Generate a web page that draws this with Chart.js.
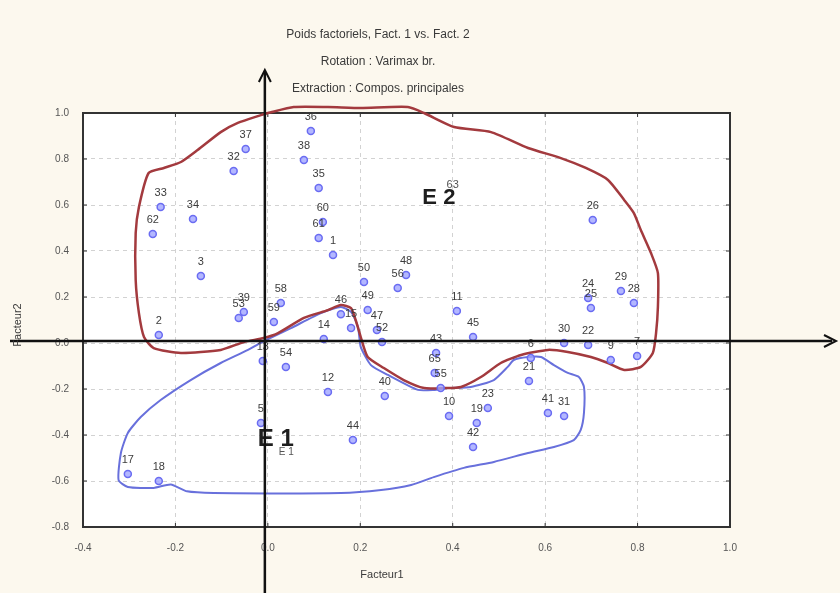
<!DOCTYPE html>
<html>
<head>
<meta charset="utf-8">
<script src="https://cdn.jsdelivr.net/npm/chart.js@4"></script>
<style>
  body { margin: 0; background: #fcf8ee; }
  canvas { display: block; }
</style>
</head>
<body>
<canvas id="chart" width="840" height="593"></canvas>
<script>
// variables (point labels) and their loadings
const pointLabels = ['37', '32', '33', '62', '34', '3', '2', '36', '38', '35', '60', '61', '1',
    '39', '53', '58', '59', '13', '54', '12', '5', '17', '18', '44',
    '50', '48', '56', '49', '46', '15', '14', '47', '52',
    '11', '45', '43', '65', '55', '40', '10', '23', '19', '42', '6', '21', '41', '31',
    '26', '24', '25', '29', '28', '30', '22', '9', '7'];
const fact1 = [-0.048, -0.074, -0.232, -0.249, -0.162, -0.145, -0.236, 0.093, 0.078, 0.110, 0.119, 0.110, 0.141,
    -0.052, -0.063, 0.028, 0.013, -0.011, 0.039, 0.130, -0.015, -0.303, -0.236, 0.184,
    0.208, 0.299, 0.281, 0.216, 0.158, 0.180, 0.121, 0.236, 0.247,
    0.409, 0.444, 0.364, 0.361, 0.374, 0.253, 0.392, 0.476, 0.452, 0.444, 0.569, 0.565, 0.606, 0.641,
    0.703, 0.693, 0.699, 0.764, 0.792, 0.641, 0.693, 0.742, 0.799];
const fact2 = [0.843, 0.748, 0.591, 0.474, 0.539, 0.291, 0.035, 0.922, 0.796, 0.674, 0.526, 0.457, 0.383,
    0.135, 0.109, 0.174, 0.091, -0.078, -0.104, -0.213, -0.348, -0.570, -0.600, -0.422,
    0.265, 0.296, 0.239, 0.143, 0.125, 0.065, 0.017, 0.057, 0.004,
    0.139, 0.026, -0.043, -0.130, -0.196, -0.230, -0.317, -0.283, -0.348, -0.452, -0.065, -0.165, -0.304, -0.317,
    0.535, 0.196, 0.152, 0.226, 0.174, 0.000, -0.009, -0.074, -0.057];

// hand-drawn groups
const e2X = [0, 0.056, 0.130, 0.201, 0.303, 0.338, 0.403, 0.483, 0.563, 0.634, 0.688, 0.736, 0.771, 0.792,
    0.807, 0.829, 0.844, 0.844, 0.840, 0.833, 0.807, 0.771, 0.736, 0.699, 0.649, 0.606, 0.548, 0.504,
    0.461, 0.418, 0.381, 0.338, 0.294, 0.251, 0.216, 0.201, 0.190, 0.180, 0.158, 0.130, 0.078, 0.022,
    -0.009, -0.052, -0.102, -0.188, -0.247, -0.268, -0.279, -0.286, -0.286, -0.279, -0.258, -0.225,
    -0.188, -0.152, -0.102, -0.065, -0.015, 0];
const e2Y = [1.0, 1.026, 1.026, 1.022, 1.026, 1.0, 0.939, 0.917, 0.848, 0.804, 0.761, 0.709, 0.622, 0.565,
    0.491, 0.391, 0.304, 0.157, 0.043, -0.043, -0.104, -0.117, -0.087, -0.061, -0.039, -0.030, -0.052, -0.087,
    -0.148, -0.191, -0.196, -0.196, -0.161, -0.109, -0.061, 0.026, 0.100, 0.152, 0.165, 0.143, 0.109, 0.043,
    0.022, 0.004, -0.030, -0.043, -0.022, 0.026, 0.130, 0.274, 0.478, 0.591, 0.739, 0.761,
    0.787, 0.839, 0.917, 0.957, 0.991, 1.0];
const e1X = [-0.004, 0.050, 0.115, 0.158, 0.180, 0.195, 0.201, 0.223, 0.260, 0.325, 0.359, 0.390, 0.439,
    0.489, 0.519, 0.532, 0.563, 0.591, 0.619, 0.649, 0.673, 0.684, 0.684, 0.677, 0.662, 0.619, 0.563,
    0.489, 0.424, 0.359, 0.310, 0.245, 0.158, -0.117, -0.175, -0.210, -0.247, -0.303, -0.323, -0.318,
    -0.303, -0.275, -0.232, -0.167, -0.102, -0.043, -0.004];
const e1Y = [0.013, 0.065, 0.130, 0.157, 0.135, 0.070, -0.017, -0.096, -0.139, -0.204, -0.204, -0.196, -0.191,
    -0.161, -0.104, -0.074, -0.061, -0.061, -0.096, -0.130, -0.148, -0.191, -0.304, -0.378, -0.422, -0.452, -0.478,
    -0.517, -0.543, -0.583, -0.617, -0.639, -0.652, -0.652, -0.645, -0.615, -0.630, -0.626, -0.596, -0.478,
    -0.391, -0.322, -0.248, -0.161, -0.087, -0.030, 0.013];

const titleLines = ['Poids factoriels, Fact. 1 vs. Fact. 2', 'Rotation : Varimax br.', 'Extraction : Compos. principales'];
const xTitle = 'Facteur1';
const yTitle = 'Facteur2';
// group names: [text, x, y, size]
const groupNames = [['E 2', 0.370, 0.630, 22], ['E 1', 0.017, -0.420, 24], ['63', 0.400, 0.685, 11], ['E 1', 0.040, -0.475, 10]];

function toXY(xs, ys) {
    return xs.map(function (x, i) { return { x: x, y: ys[i] }; });
}

function tickText(v) {
    return (Math.abs(v) < 1e-9 ? 0 : v).toFixed(1);
}

const decor = {
    id: 'decor',
    beforeDraw: function (chart) {
        const c = chart.ctx, a = chart.chartArea;
        c.save();
        c.fillStyle = '#fcf8ee';
        c.fillRect(0, 0, chart.width, chart.height);
        c.fillStyle = '#ffffff';
        c.fillRect(a.left, a.top, a.right - a.left, a.bottom - a.top);
        c.restore();
    },
    beforeDatasetsDraw: function (chart) {
        const c = chart.ctx, a = chart.chartArea;
        const xs = chart.scales.x, ys = chart.scales.y;
        c.save();
        // frame with small ticks
        c.strokeStyle = '#333';
        c.lineWidth = 2;
        c.strokeRect(a.left, a.top, a.right - a.left, a.bottom - a.top);
        c.lineWidth = 1;
        c.beginPath();
        xs.ticks.forEach(function (t) {
            const px = xs.getPixelForValue(t.value);
            c.moveTo(px, a.bottom); c.lineTo(px, a.bottom - 4);
            c.moveTo(px, a.top); c.lineTo(px, a.top + 4);
        });
        ys.ticks.forEach(function (t) {
            const py = ys.getPixelForValue(t.value);
            c.moveTo(a.left, py); c.lineTo(a.left + 4, py);
            c.moveTo(a.right, py); c.lineTo(a.right - 4, py);
        });
        c.stroke();
        c.restore();
    },
    afterDatasetsDraw: function (chart) {
        const c = chart.ctx;
        const xs = chart.scales.x, ys = chart.scales.y;
        c.save();
        // point labels
        const meta = chart.getDatasetMeta(0);
        c.font = '11px "Liberation Sans", Arial, sans-serif';
        c.fillStyle = '#3c3c3c';
        c.textAlign = 'center';
        c.textBaseline = 'middle';
        meta.data.forEach(function (pt, i) {
            c.fillText(pointLabels[i], pt.x, pt.y - 14);
        });

        // group names
        groupNames.forEach(function (g) {
            c.font = (g[3] > 14 ? 'bold ' : '') + g[3] + 'px "Liberation Sans", Arial, sans-serif';
            c.fillStyle = g[3] > 14 ? '#1e1e1e' : '#555';
            c.fillText(g[0], xs.getPixelForValue(g[1]), ys.getPixelForValue(g[2]));
        });

        // black arrows through origin
        const ox = xs.getPixelForValue(0) - 3, oy = ys.getPixelForValue(0) - 2;
        c.strokeStyle = '#111';
        c.lineWidth = 2.5;
        c.beginPath();
        c.moveTo(10, oy);
        c.lineTo(832, oy);
        c.moveTo(ox, 593);
        c.lineTo(ox, 72);
        c.stroke();
        c.lineWidth = 2;
        c.beginPath();
        c.moveTo(824, oy - 6); c.lineTo(836, oy); c.lineTo(824, oy + 6);
        c.moveTo(ox - 6, 82); c.lineTo(ox, 70); c.lineTo(ox + 6, 82);
        c.stroke();

        // titles
        c.fillStyle = '#3a3a3a';
        c.font = '12px "Liberation Sans", Arial, sans-serif';
        titleLines.forEach(function (t, i) {
            c.fillText(t, 378, 35 + i * 27);
        });
        c.font = '11px "Liberation Sans", Arial, sans-serif';
        c.fillText(xTitle, 382, 575);
        c.translate(18, 325);
        c.rotate(-Math.PI / 2);
        c.fillText(yTitle, 0, 0);
        c.restore();
    }
};

const ctx = document.getElementById('chart').getContext('2d');
const myChart = new Chart(ctx, {
    type: 'scatter',
    data: {
        datasets: [{
            data: toXY(fact1, fact2),
            pointRadius: 3.5,
            borderWidth: 1.5,
            borderColor: '#6a6cf2',
            backgroundColor: 'rgba(160,165,255,0.8)',
        }, {
            data: toXY(e2X, e2Y),
            showLine: true,
            clip: false,
            pointRadius: 0,
            tension: 0.2,
            borderColor: '#a33a3e',
            borderWidth: 2.5,
        }, {
            data: toXY(e1X, e1Y),
            showLine: true,
            clip: false,
            pointRadius: 0,
            tension: 0.2,
            borderColor: '#6870dc',
            borderWidth: 2,
        }]
    },
    options: {
        responsive: false,
        animation: false,
        layout: {
            padding: { left: 0, top: 113, right: 110, bottom: 0 }
        },
        scales: {
            x: {
                min: -0.4,
                max: 1.0,
                afterFit: function (scale) { scale.height = 66; },
                grid: { color: '#d2d2d2', drawTicks: false },
                border: { display: false, dash: [4, 4] },
                ticks: {
                    stepSize: 0.2,
                    padding: 15,
                    color: '#555',
                    font: { size: 10, family: '"Liberation Sans", Arial' },
                    callback: tickText
                }
            },
            y: {
                min: -0.8,
                max: 1.0,
                afterFit: function (scale) { scale.width = 83; },
                grid: { color: '#d2d2d2', drawTicks: false },
                border: { display: false, dash: [4, 4] },
                ticks: {
                    stepSize: 0.2,
                    padding: 14,
                    color: '#555',
                    font: { size: 10, family: '"Liberation Sans", Arial' },
                    callback: tickText
                }
            }
        },
        plugins: {
            legend: { display: false },
            tooltip: { enabled: false }
        }
    },
    plugins: [decor]
});
</script>
</body>
</html>
